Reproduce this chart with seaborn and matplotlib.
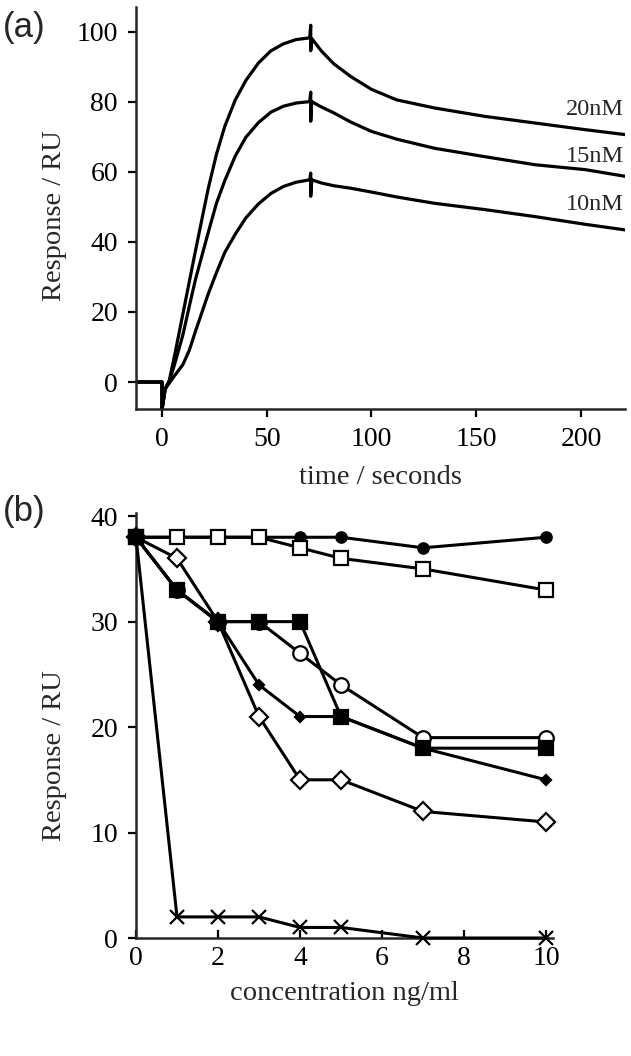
import numpy as np
import pandas as pd
import seaborn as sns
from matplotlib import pyplot as plt

# ---- panel (a): sensorgram traces ----
t_sec = [-12.4, 0, 0, 1.5, 3.5, 6, 10, 13, 16, 22, 26, 30, 35, 40, 46, 52, 58, 64,
         70.5, 71, 71, 71.5, 76, 82, 90, 100, 112, 130, 154, 178, 202, 221]
r_20nM = [0, 0, -8, -2, 0.5, 7.5, 19.5, 28.5, 37.5, 55, 65, 73, 80.5, 86, 91, 94.5, 96.5, 97.7,
          98.2, 101.8, 94.5, 98, 94.5, 90.8, 87.2, 83.5, 80.5, 78.2, 75.8, 73.9, 72, 70.6]
r_15nM = [0, 0, -8, -2, 0.3, 5, 13.5, 21.5, 29.3, 42.5, 51, 57.5, 64.5, 69.8, 74, 77, 78.7, 79.6,
          80, 82.7, 74.4, 80, 78.5, 76.8, 74.2, 71.5, 69.3, 66.7, 64.3, 62, 60.6, 58.7]
r_10nM = [0, 0, -8, -2, -0.3, 1.8, 5, 9, 14.5, 25, 31.2, 37, 42.2, 46.8, 50.8, 53.8, 55.8, 57,
          57.7, 59.6, 53, 57.7, 56.8, 56, 55.3, 54.2, 52.8, 51, 49.2, 47.2, 45, 43.4]
trace_labels = ["20nM", "15nM", "10nM"]
label_y = [77.7, 64.4, 50.6]

# ---- panel (b): response vs concentration ----
conc = [0, 1, 2, 3, 4, 5, 7, 10]
resp_filled_circle = [38, 38, 38, 38, 38, 38, 37, 38]
resp_open_circle = [38, 33, 30, 30, 27, 24, 19, 19]
resp_small_diamond = [38, 33, 30, 24, 21, 21, 18, 15]
resp_open_diamond = [38, 36, 30, 21, 15, 15, 12, 11]
resp_cross = [38, 2, 2, 2, 1, 1, 0, 0]
resp_open_square = [38, 38, 38, 38, 37, 36, 35, 33]
resp_filled_square = [38, 33, 30, 30, 30, 21, 18, 18]

sns.set_style("ticks")
plt.rcParams['font.family'] = ['Liberation Serif', 'DejaVu Serif']
plt.rcParams['axes.linewidth'] = 1.8
plt.rcParams['xtick.major.width'] = 1.6
plt.rcParams['ytick.major.width'] = 1.6
plt.rcParams['xtick.major.size'] = 6
plt.rcParams['ytick.major.size'] = 6
plt.rcParams['xtick.labelsize'] = 20
plt.rcParams['ytick.labelsize'] = 20
plt.rcParams['xtick.color'] = 'black'
plt.rcParams['ytick.color'] = 'black'

W, H = 631, 1056
fig = plt.figure(figsize=(W / 100, H / 100), dpi=100)

def box(l, t, r, b):
    return [l / W, 1 - b / H, (r - l) / W, (b - t) / H]

# ----- (a) -----
ax1 = fig.add_axes(box(136, 7, 625, 409))
for r in [r_20nM, r_15nM, r_10nM]:
    sns.lineplot(x=t_sec, y=r, ax=ax1, sort=False, estimator=None,
                 color='black', linewidth=2.3)
for lab, y in zip(trace_labels, label_y):
    ax1.text(220.5, y, lab, ha='right', va='center', fontsize=17.5)
ax1.set_xlim(-12.4, 221)
ax1.set_ylim(-7.7, 107)
ax1.set_xticks([0, 50, 100, 150, 200])
ax1.set_yticks([0, 20, 40, 60, 80, 100])
ax1.tick_params(axis='both', direction='out', pad=7)
sns.despine(ax=ax1)
ax1.set_xlabel("time / seconds", fontsize=20.5)
ax1.set_ylabel("Response / RU", fontsize=20.5)
ax1.xaxis.set_label_coords(0.5, -0.14)
ax1.xaxis.label.set_va('top')
ax1.yaxis.set_label_coords(-0.141, 0.48)

# ----- (b) -----
ax2 = fig.add_axes(box(136, 513, 553, 938))
styles = [
    (resp_filled_circle, dict(marker='o', markersize=7.5, markerfacecolor='black')),
    (resp_open_circle, dict(marker='o', markersize=10.5, markerfacecolor='white')),
    (resp_small_diamond, dict(marker='D', markersize=5.5, markerfacecolor='black')),
    (resp_open_diamond, dict(marker='D', markersize=9, markerfacecolor='white')),
    (resp_cross, dict(marker='x', markersize=10, markerfacecolor='black')),
    (resp_open_square, dict(marker='s', markersize=10.5, markerfacecolor='white')),
    (resp_filled_square, dict(marker='s', markersize=10.5, markerfacecolor='black')),
]
for z, (vals, st) in enumerate(styles):
    sns.lineplot(x=conc, y=vals, ax=ax2, color='black', linewidth=2.2,
                 markeredgecolor='black', markeredgewidth=1.6,
                 clip_on=False, zorder=3 + z, **st)
ax2.set_xlim(0, 10.17)
ax2.set_ylim(0, 40.3)
ax2.set_xticks([0, 2, 4, 6, 8, 10])
ax2.set_yticks([0, 10, 20, 30, 40])
ax2.tick_params(axis='y', direction='out', pad=7)
ax2.tick_params(axis='x', direction='in', pad=6)
sns.despine(ax=ax2)
ax2.set_xlabel("concentration ng/ml", fontsize=20.5)
ax2.set_ylabel("Response / RU", fontsize=20.5)
ax2.xaxis.set_label_coords(0.5, -0.1)
ax2.xaxis.label.set_va('top')
ax2.yaxis.set_label_coords(-0.165, 0.43)

# panel letters
fig.text(3 / W, 1 - 11 / H, "(a)", ha='left', va='top', fontsize=25,
         family=['Liberation Sans', 'DejaVu Sans'])
fig.text(3 / W, 1 - 495 / H, "(b)", ha='left', va='top', fontsize=25,
         family=['Liberation Sans', 'DejaVu Sans'])

fig.savefig("out.png", dpi=100)
